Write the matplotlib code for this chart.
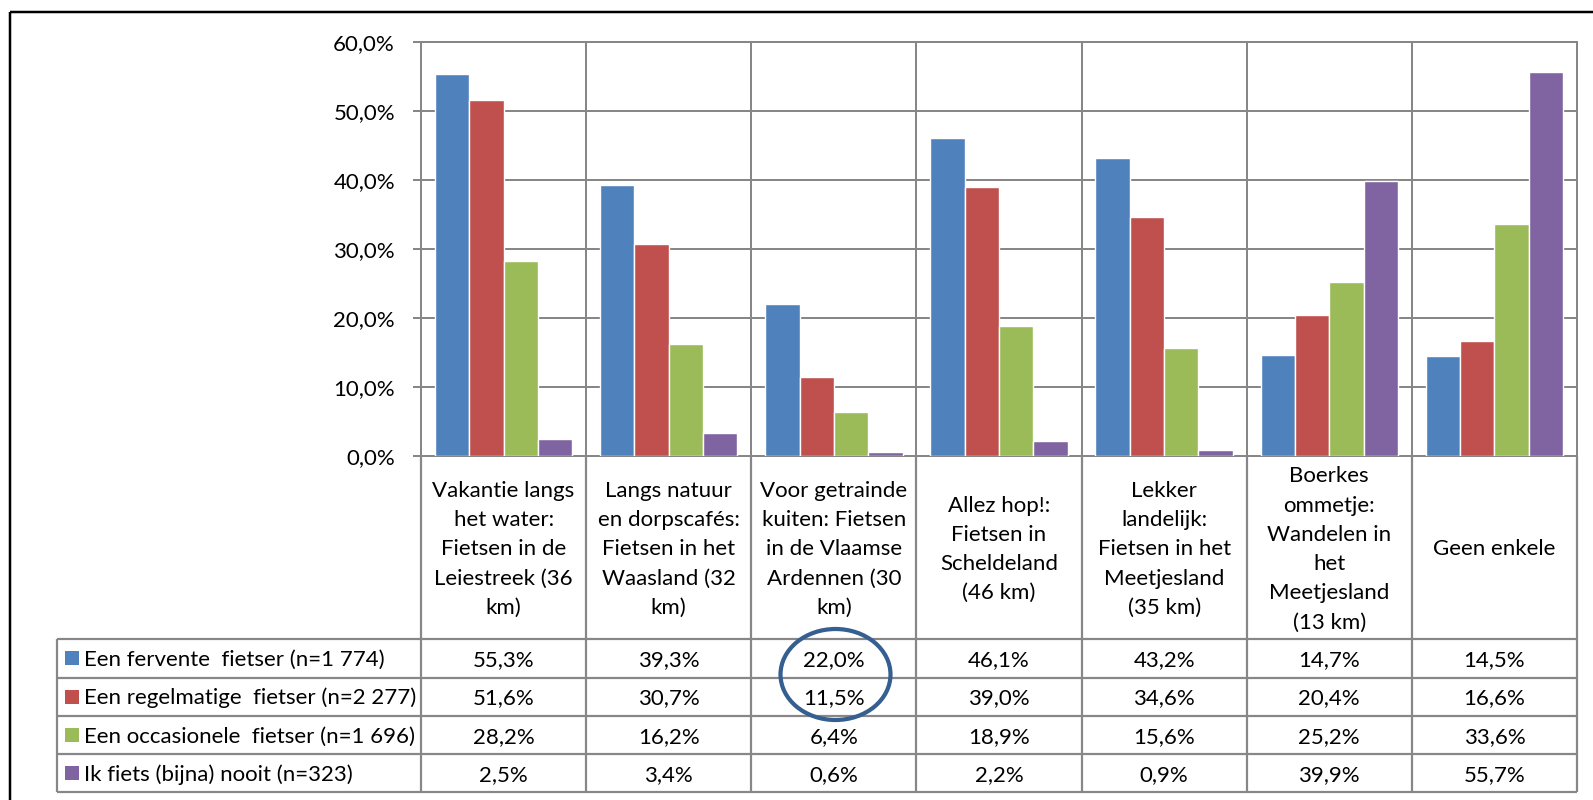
import numpy as np
import matplotlib
matplotlib.use("Agg")
import matplotlib.pyplot as plt
from matplotlib import font_manager
from matplotlib.transforms import blended_transform_factory
from matplotlib.patches import Rectangle, Ellipse
from matplotlib.ticker import FuncFormatter

# ---- data ---------------------------------------------------------------
routes = [
    "Vakantie langs\nhet water:\nFietsen in de\nLeiestreek (36\nkm)",
    "Langs natuur\nen dorpscafés:\nFietsen in het\nWaasland (32\nkm)",
    "Voor getrainde\nkuiten: Fietsen\nin de Vlaamse\nArdennen (30\nkm)",
    "Allez hop!:\nFietsen in\nScheldeland\n(46 km)",
    "Lekker\nlandelijk:\nFietsen in het\nMeetjesland\n(35 km)",
    "Boerkes\nommetje:\nWandelen in\nhet\nMeetjesland\n(13 km)",
    "Geen enkele",
]
series_names = [
    "Een fervente  fietser (n=1 774)",
    "Een regelmatige  fietser (n=2 277)",
    "Een occasionele  fietser (n=1 696)",
    "Ik fiets (bijna) nooit (n=323)",
]
fervente = [55.3, 39.3, 22.0, 46.1, 43.2, 14.7, 14.5]
regelmatig = [51.6, 30.7, 11.5, 39.0, 34.6, 20.4, 16.6]
occasioneel = [28.2, 16.2, 6.4, 18.9, 15.6, 25.2, 33.6]
nooit = [2.5, 3.4, 0.6, 2.2, 0.9, 39.9, 55.7]
series_values = [fervente, regelmatig, occasioneel, nooit]
colors = ["#4F81BD", "#C0504D", "#9BBB59", "#8064A2"]
y_ticks = [0, 10, 20, 30, 40, 50, 60]

# ---- fonts ----------------------------------------------------------------
avail = {f.name for f in font_manager.fontManager.ttflist}
fam = next((f for f in ["Lato", "Open Sans", "Liberation Sans", "DejaVu Sans"] if f in avail),
           "DejaVu Sans")
plt.rcParams["font.family"] = [fam, "DejaVu Sans"]
FS = 16

# ---- layout (pixels) -----------------------------------------------------
W, H = 1593, 800
PX = 0.72          # points per pixel at dpi 100
HALF_CAP = 7.8     # half the cap height of the table font, in pixels
LINE_STEP = 29.2   # distance between wrapped label lines, in pixels
plot_l, plot_r, plot_t, plot_b = 421.0, 1577.0, 42.0, 456.0
table_l = 56.5
row_edges = [456.0, 639.3, 677.5, 715.7, 754.0, 792.3]
grid_col = "#878787"

fig = plt.figure(figsize=(W / 100, H / 100), dpi=100)

# overlay in pixel coordinates, y pointing down
ov = fig.add_axes([0, 0, 1, 1], zorder=0)
ov.set_xlim(0, W)
ov.set_ylim(H, 0)
ov.axis("off")

ax = fig.add_axes([plot_l / W, 1 - plot_b / H, (plot_r - plot_l) / W, (plot_b - plot_t) / H],
                  zorder=2)
ax.patch.set_alpha(0)

n = len(routes)
x = np.arange(n)
group = 0.832
bw = group / len(series_values)
for k, (vals, col) in enumerate(zip(series_values, colors)):
    off = -group / 2 + bw * (k + 0.5)
    ax.bar(x + off, vals, width=bw, color=col, edgecolor="white",
           linewidth=1.4 * PX, zorder=3)

ax.set_xlim(-0.5, n - 0.5)
ax.set_ylim(0, 60)
ax.set_yticks(y_ticks)
ax.yaxis.set_major_formatter(FuncFormatter(lambda v, p: f"{v:.1f}".replace(".", ",") + "%"))
ax.tick_params(axis="y", length=8 * PX, width=2 * PX, color=grid_col, pad=13,
               labelsize=FS, labelcolor="black")
ax.set_xticks(np.arange(-0.5, n, 1.0))
ax.tick_params(axis="x", length=0, labelbottom=False)
ax.grid(True, color=grid_col, linewidth=2 * PX, zorder=1)
for s in ax.spines.values():
    s.set_color(grid_col)
    s.set_linewidth(2 * PX)

# ---- data table below the plot -------------------------------------------
tr = blended_transform_factory(ax.transData, ov.transData)
line_kw = dict(color=grid_col, linewidth=2.2 * PX, solid_capstyle="butt")


def cell_text(xpos, ymid, s, ha="center", transform=None):
    """Write one line of text so that its capitals sit centred on ymid."""
    kw = dict(ha=ha, va="baseline", fontsize=FS)
    if transform is not None:
        kw["transform"] = transform
    ov.text(xpos, ymid + HALF_CAP, s, **kw)


# vertical cell borders under each category
for b in np.arange(-0.5, n, 1.0):
    ov.plot([b, b], [row_edges[0], row_edges[-1]], transform=tr, **line_kw)
# left border of the legend column
ov.plot([table_l, table_l], [row_edges[1], row_edges[-1]], **line_kw)
# horizontal borders of the value rows
for y in row_edges[1:]:
    ov.plot([table_l, plot_r], [y, y], **line_kw)

# category labels, line by line with an even step
label_mid = (row_edges[0] + row_edges[1]) / 2
for i, lab in enumerate(routes):
    lines = lab.split("\n")
    m = len(lines)
    for j, ln in enumerate(lines):
        cell_text(i, label_mid + (j - (m - 1) / 2) * LINE_STEP, ln, transform=tr)

# value rows with legend keys
for r, (name, vals, col) in enumerate(zip(series_names, series_values, colors)):
    yc = (row_edges[r + 1] + row_edges[r + 2]) / 2
    ov.add_patch(Rectangle((65, yc - 7), 14, 14, facecolor=col, edgecolor="none"))
    cell_text(84, yc, name, ha="left")
    for i, v in enumerate(vals):
        cell_text(i, yc, f"{v:.1f}".replace(".", ",") + "%", transform=tr)

# highlight around the third column's first two values
ov.add_patch(Ellipse((835.5, 674.5), 110, 91, facecolor="none", edgecolor="#365F91",
                     linewidth=4.2 * PX, zorder=5))

# outer frame
ov.add_patch(Rectangle((10, 12), W + 40, H + 40, facecolor="none", edgecolor="black",
                       linewidth=2.5 * PX))

fig.savefig("out.png", dpi=100)
